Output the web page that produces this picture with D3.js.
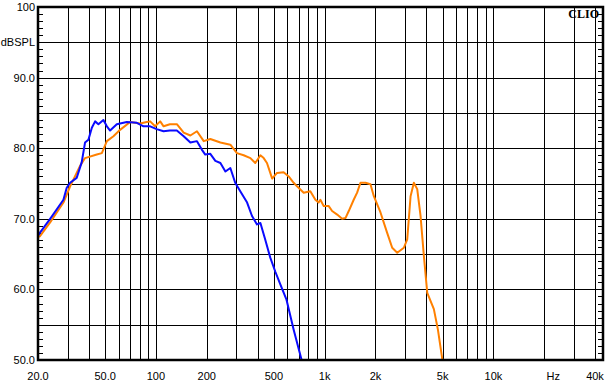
<!DOCTYPE html>
<html>
<head>
<meta charset="utf-8">
<script src="https://cdn.jsdelivr.net/npm/d3@7"></script>
<style>
  body { margin: 0; background: #fff; }
  text { font-family: "Liberation Sans", Arial, sans-serif; font-size: 11px; fill: #000; }
</style>
</head>
<body>
<div id="chart"></div>
<script>
// data: frequency (Hz) and level (dB SPL)
var blueFreq = [20, 20.5, 23.6, 28.3, 29.6, 31, 33.9, 36.3, 38, 39.8, 41.7, 43.6, 45.6, 48.8, 51.2, 53.5,
  58.6, 67.2, 77.1, 84.4, 92.4, 101, 111, 121, 133, 146, 160, 175, 187, 196, 210, 225, 241, 258, 276,
  295, 316, 347, 371, 397, 416, 445, 476, 510, 546, 593, 655, 728, 760];
var blueDb = [67.6, 68.0, 70.0, 72.7, 74.4, 75.1, 75.8, 78.0, 80.8, 81.2, 82.9, 83.8, 83.4, 84.0, 83.1, 82.5,
  83.4, 83.7, 83.6, 83.1, 83.1, 82.7, 82.4, 82.5, 82.5, 81.7, 80.8, 81.0, 79.8, 79.1, 79.2, 78.2, 77.9, 76.7, 77.2,
  75.1, 73.9, 72.3, 70.4, 69.2, 69.4, 67.0, 64.5, 62.5, 60.7, 58.6, 54.3, 50.1, 48.5];

var orangeFreq = [20, 20.5, 23.6, 28.3, 31, 35.5, 38, 44.6, 47.8, 51.2, 56, 61.3, 70.3, 80.6, 88.3, 92.4,
  98.9, 106, 111, 121, 133, 146, 160, 175, 192, 210, 241, 276, 302, 331, 363, 388, 416, 435, 455, 476, 488,
  522, 571, 612, 655, 686, 751, 822, 881, 921, 943, 987, 1057, 1107, 1186, 1269, 1328, 1389, 1486, 1557,
  1630, 1745, 1868, 1956, 2142, 2346, 2513, 2692, 2946, 3085, 3229, 3377, 3536, 3700, 3873, 4055, 4437,
  4689, 4980, 5200];
var orangeDb = [67.5, 67.5, 69.5, 72.3, 74.6, 77.5, 78.6, 79.1, 79.3, 81.0, 81.7, 82.6, 83.7, 83.5, 83.7, 83.8,
  83.1, 83.8, 83.1, 83.4, 83.4, 82.2, 81.8, 82.4, 81.0, 81.3, 80.8, 80.5, 79.3, 79.0, 78.6, 77.9, 79.0, 78.6,
  77.9, 76.5, 75.7, 76.5, 76.6, 76.0, 75.1, 74.6, 73.7, 73.9, 72.7, 72.3, 72.7, 71.8, 71.8, 71.1, 70.6, 70.0,
  70.1, 71.1, 72.7, 73.7, 75.1, 75.1, 74.9, 73.2, 70.9, 68.0, 65.9, 65.2, 65.9, 67.1, 73.2, 75.1, 74.2, 70.4,
  64.7, 59.5, 57.2, 54.3, 50.1, 48.0];

var xGridFreq = [30, 40, 50, 60, 70, 80, 90, 100, 200, 300, 400, 500, 600, 700, 800, 900, 1000,
  2000, 3000, 4000, 5000, 6000, 7000, 8000, 9000, 10000, 20000, 30000, 40000];
var xTickFreq = [20, 50, 100, 200, 500, 1000, 2000, 5000, 10000, 40000];
var xTickText = ["20.0", "50.0", "100", "200", "500", "1k", "2k", "5k", "10k", "40k"];
var yGridDb = [55, 60, 65, 70, 75, 80, 85, 90, 95];
var yTickDb = [100, 95, 90, 80, 70, 60, 50];
var yTickText = ["100", "dBSPL", "90.0", "80.0", "70.0", "60.0", "50.0"];

var svgWidth = 610;
var svgHeight = 384;
var plot = { left: 38, right: 603, top: 7, bottom: 360 };

var svg = d3.select("#chart")
  .append("svg")
  .attr("width", svgWidth)
  .attr("height", svgHeight);

var xScale = d3.scaleLog()
  .domain([20, 40000])
  .range([plot.left, 595]);

var yScale = d3.scaleLinear()
  .domain([50, 100])
  .range([plot.bottom, plot.top]);

// grid
svg.append("g").selectAll("line")
  .data(xGridFreq)
  .enter()
  .append("line")
  .attr("x1", d => Math.round(xScale(d)) + 0.5)
  .attr("x2", d => Math.round(xScale(d)) + 0.5)
  .attr("y1", plot.top)
  .attr("y2", plot.bottom)
  .attr("stroke", "#000")
  .attr("stroke-width", 1);

svg.append("g").selectAll("line")
  .data(yGridDb)
  .enter()
  .append("line")
  .attr("x1", plot.left)
  .attr("x2", plot.right)
  .attr("y1", d => Math.round(yScale(d)) + 0.5)
  .attr("y2", d => Math.round(yScale(d)) + 0.5)
  .attr("stroke", "#000")
  .attr("stroke-width", 1);

// minor ticks every 1 dB on left and right borders
var minorDb = d3.range(51, 100);
svg.append("g").selectAll("line")
  .data(minorDb)
  .enter()
  .append("line")
  .attr("x1", plot.left)
  .attr("x2", plot.left + 5)
  .attr("y1", d => Math.round(yScale(d)) + 0.5)
  .attr("y2", d => Math.round(yScale(d)) + 0.5)
  .attr("stroke", "#000");

svg.append("g").selectAll("line")
  .data(minorDb)
  .enter()
  .append("line")
  .attr("x1", plot.right - 5)
  .attr("x2", plot.right)
  .attr("y1", d => Math.round(yScale(d)) + 0.5)
  .attr("y2", d => Math.round(yScale(d)) + 0.5)
  .attr("stroke", "#000");

// curves
svg.append("clipPath")
  .attr("id", "plotClip")
  .append("rect")
  .attr("x", plot.left)
  .attr("y", plot.top)
  .attr("width", plot.right - plot.left)
  .attr("height", plot.bottom - plot.top);

var line = d3.line()
  .x(d => xScale(d[0]))
  .y(d => yScale(d[1]));

var curves = [
  { color: "#ff8000", pts: d3.zip(orangeFreq, orangeDb) },
  { color: "#0a0aff", pts: d3.zip(blueFreq, blueDb) }
];

svg.append("g")
  .attr("clip-path", "url(#plotClip)")
  .selectAll("path")
  .data(curves)
  .enter()
  .append("path")
  .attr("d", d => line(d.pts))
  .attr("fill", "none")
  .attr("stroke", d => d.color)
  .attr("stroke-width", 2)
  .attr("stroke-linejoin", "round");

// frame
svg.append("rect")
  .attr("x", plot.left)
  .attr("y", plot.top)
  .attr("width", plot.right - plot.left)
  .attr("height", plot.bottom - plot.top)
  .attr("fill", "none")
  .attr("stroke", "#000")
  .attr("stroke-width", 2.5);

// labels
svg.append("g").selectAll("text")
  .data(yTickDb)
  .enter()
  .append("text")
  .attr("x", 35)
  .attr("y", d => yScale(d))
  .attr("dy", "0.36em")
  .attr("text-anchor", "end")
  .text((d, i) => yTickText[i]);

svg.append("g").selectAll("text")
  .data(xTickFreq)
  .enter()
  .append("text")
  .attr("x", d => xScale(d))
  .attr("y", 380)
  .attr("text-anchor", "middle")
  .text((d, i) => xTickText[i]);

svg.append("text")
  .attr("x", xScale(20000) + 9)
  .attr("y", 380)
  .attr("text-anchor", "middle")
  .text("Hz");

svg.append("text")
  .attr("x", 599)
  .attr("y", 18)
  .attr("text-anchor", "end")
  .style("font-family", "'Liberation Serif', 'Times New Roman', serif")
  .style("font-weight", "bold")
  .style("font-size", "12px")
  .text("CLIO");
</script>
</body>
</html>
